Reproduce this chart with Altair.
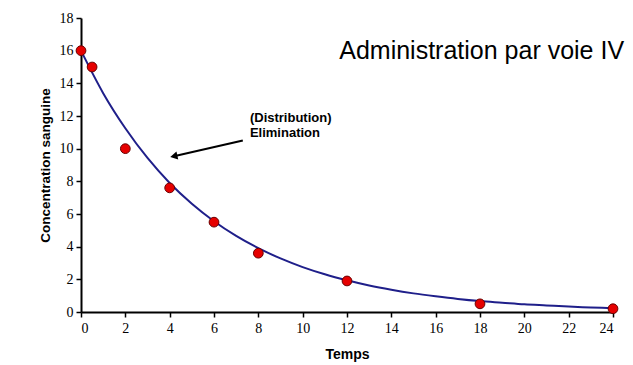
import altair as alt
import pandas as pd

# Observed points
obs_t = [0, 0.5, 2, 4, 6, 8, 12, 18, 24]
obs_c = [16, 15, 10, 7.6, 5.5, 3.6, 1.9, 0.5, 0.2]

# Fitted curve
curve_t = [0, 1, 2, 3, 4, 5, 6, 7, 8, 9, 10, 11, 12, 13, 14, 15, 16, 17, 18, 19, 20, 21, 22, 23, 24]
curve_c = [16, 13.4, 11.25, 9.43, 7.9, 6.63, 5.56, 4.66, 3.91, 3.28, 2.75, 2.31, 1.94, 1.62, 1.36,
           1.14, 0.96, 0.8, 0.67, 0.57, 0.47, 0.4, 0.33, 0.28, 0.23]

x_ticks = [0, 2, 4, 6, 8, 10, 12, 14, 16, 18, 20, 22, 24]
y_ticks = [0, 2, 4, 6, 8, 10, 12, 14, 16, 18]

title_text = ["Administration par voie IV"]
annot_lines = ["(Distribution)", "Elimination"]
annot_y = [11.85, 10.95]
arrow = {"x": [7.3], "y": [10.5], "x2": [4.24], "y2": [9.55]}

obs = pd.DataFrame({"t": obs_t, "c": obs_c})
curve = pd.DataFrame({"t": curve_t, "c": curve_c})
annot = pd.DataFrame({"label": annot_lines, "t": [7.62, 7.62], "c": annot_y})
arr = pd.DataFrame({"t": arrow["x"], "c": arrow["y"], "t2": arrow["x2"], "c2": arrow["y2"]})
ttl = pd.DataFrame({"label": title_text, "t": [24.5], "c": [16.0]})

xs = alt.Scale(domain=[0, 24], nice=False)
ys = alt.Scale(domain=[0, 18], nice=False)

xaxis = alt.Axis(values=x_ticks, title="Temps", grid=False, labelOverlap=False,
                 labelFont="Liberation Serif", labelFontSize=14, labelColor="black",
                 titleFont="Liberation Sans", titleFontSize=14, titleFontWeight="bold",
                 titleColor="black", titlePadding=12, domainColor="black", domainWidth=2,
                 tickColor="black", tickWidth=1.5, tickSize=5, labelPadding=4)
yaxis = alt.Axis(values=y_ticks, title="Concentration sanguine", grid=False,
                 labelOverlap=False,
                 labelFont="Liberation Serif", labelFontSize=14, labelColor="black",
                 titleFont="Liberation Sans", titleFontSize=13.5, titleFontWeight="bold",
                 titleColor="black", titlePadding=7, domainColor="black", domainWidth=2,
                 tickColor="black", tickWidth=1.5, tickSize=5, labelPadding=3)

X = alt.X("t:Q", scale=xs, axis=xaxis)
Y = alt.Y("c:Q", scale=ys, axis=yaxis)

line = alt.Chart(curve).mark_line(color="#1f1f8a", strokeWidth=2, interpolate="monotone").encode(
    x=X, y=Y)

pts = alt.Chart(obs).mark_point(filled=True, shape="circle", size=95, color="#e60000",
                                stroke="#6a0000", strokeWidth=1, opacity=1).encode(x=X, y=Y)

arrow_line = alt.Chart(arr).mark_rule(color="black", strokeWidth=2).encode(
    x=X, y=Y, x2="t2:Q", y2="c2:Q")

arrow_head = alt.Chart(arr).mark_point(shape="triangle", filled=True, color="black", size=70,
                                       angle=257.6, opacity=1).encode(
    x=alt.X("t2:Q", scale=xs, axis=xaxis), y=alt.Y("c2:Q", scale=ys, axis=yaxis))

annot_text = alt.Chart(annot).mark_text(align="left", baseline="middle", font="Liberation Sans",
                                        fontSize=13, fontWeight="bold", color="black").encode(
    x=X, y=Y, text="label:N")

title = alt.Chart(ttl).mark_text(align="right", baseline="middle", font="Liberation Sans",
                                 fontSize=25, color="black").encode(
    x=X, y=Y, text="label:N")

chart = alt.layer(line, pts, arrow_line, arrow_head, annot_text, title).properties(
    width=532, height=294,
    background="white",
    autosize=alt.AutoSizeParams(type="none"),
    padding={"left": 73, "top": 10, "right": 12, "bottom": 60},
).configure_view(stroke=None, strokeWidth=0)

chart.save("out.html", embed_options={"renderer": "svg", "actions": False})
